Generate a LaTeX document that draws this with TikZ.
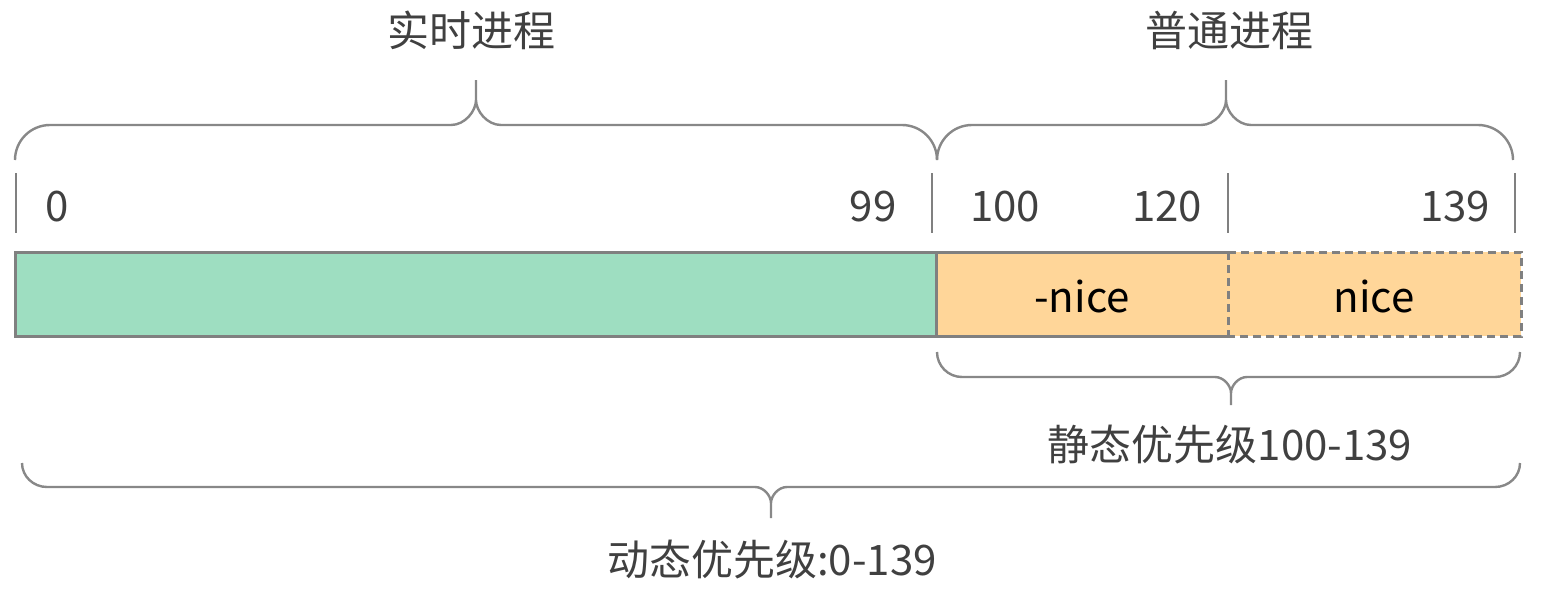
\documentclass[tikz,border=0pt]{standalone}
\usepackage{fontspec}
\setmainfont{Noto Sans CJK SC}
\definecolor{rtgreen}{HTML}{9EDEC1}
\definecolor{norange}{HTML}{FFD699}
\definecolor{lgray}{HTML}{808080}
\definecolor{bgray}{HTML}{888888}
\definecolor{tgray}{HTML}{404040}
% #1 left x, #2 right x, #3 tip x, #4 end y, #5 line y, #6 tip-curve end y, #7 tip y, #8 corner width, #9 tip-curve width
\newcommand\drawbrace[9]{%
  \draw[brc]
    (#1,#4) .. controls (#1,{#4+0.552*(#5-#4)}) and ({#1+0.448*#8},#5) .. (#1+#8,#5)
    -- (#3-#9,#5) .. controls ({#3-0.448*#9},#5) and (#3,{#5+0.552*(#6-#5)}) .. (#3,#6) -- (#3,#7)
    (#2,#4) .. controls (#2,{#4+0.552*(#5-#4)}) and ({#2-0.448*#8},#5) .. (#2-#8,#5)
    -- (#3+#9,#5) .. controls ({#3+0.448*#9},#5) and (#3,{#5+0.552*(#6-#5)}) .. (#3,#6);}
\begin{document}
\begin{tikzpicture}[x=1pt,y=-1pt,
  brc/.style={draw=bgray,line width=2.4pt},
  tick/.style={draw=lgray,line width=2.5pt},
  bar/.style={draw=lgray,line width=3pt},
  dbar/.style={draw=lgray,line width=3pt,dash pattern=on 8pt off 5pt},
  lbl/.style={font=\fontsize{42}{50}\selectfont,text=tgray,inner sep=0pt},
  num/.style={font=\fontsize{42}{50}\selectfont,text=tgray,inner sep=0pt},
  inbar/.style={font=\fontsize{42}{50}\selectfont,text=black,inner sep=0pt}]
\useasboundingbox (0,0) rectangle (1542,592);
% labels
\node[lbl] (rt) at (471,30) {实时进程};
\node[lbl] (np) at (1229,30) {普通进程};
\node[lbl] (sp) at (1230,445) {静态优先级100-139};
\node[lbl] (dp) at (772,560) {动态优先级:0-139};
% braces
\drawbrace{15}{937}{476}{160}{125}{100}{80}{35}{25}
\drawbrace{937}{1513}{1226}{160}{125}{100}{80}{35}{25}
\drawbrace{937}{1520}{1231}{352}{377}{393}{405}{25}{16}
\drawbrace{22}{1520}{771}{463}{487}{503}{518}{25}{16}
% ticks
\foreach \x in {16,932,1228,1515} \draw[tick] (\x,173) -- (\x,233);
% numbers
\node[num] (n0) at (57,207) {0};
\node[num] (n99) at (873,207) {99};
\node[num] (n100) at (1005,207) {100};
\node[num] (n120) at (1167,207) {120};
\node[num] (n139) at (1455,207) {139};
% bar
\fill[rtgreen] (15,252) rectangle (936,336);
\fill[norange] (936,252) rectangle (1521,336);
\draw[bar] (1228,252) -- (15,252) -- (15,336) -- (1228,336);
\draw[bar] (936,252) -- (936,336);
\draw[dbar] (1228,252) -- (1521,252) -- (1521,336) -- (1228,336);
\draw[dbar] (1228,252) -- (1228,336);
\node[inbar] (mn) at (1082,296) {-nice};
\node[inbar] (pn) at (1374,296) {nice};
\end{tikzpicture}
\end{document}
